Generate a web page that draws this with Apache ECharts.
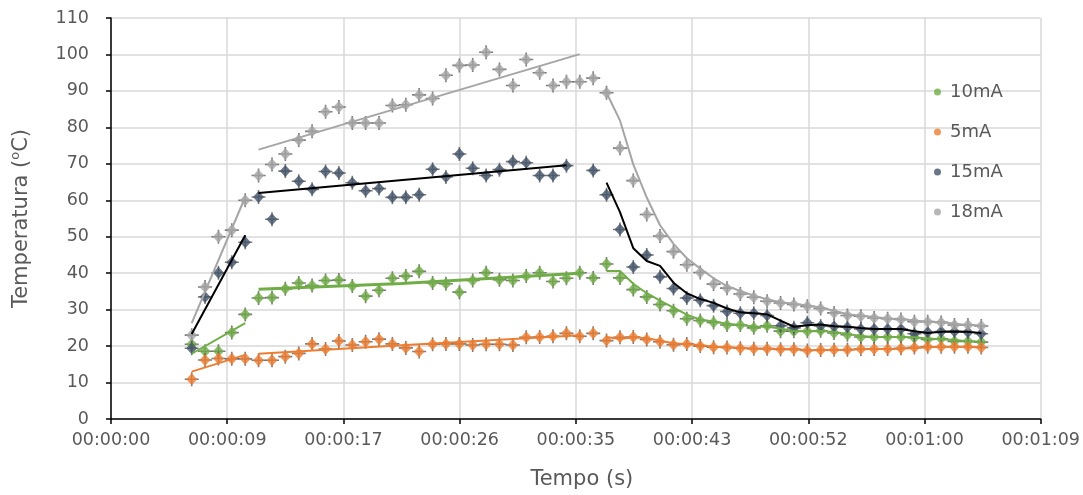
<!DOCTYPE html>
<html>
<head>
<meta charset="utf-8">
<script src="https://cdn.jsdelivr.net/npm/echarts@6/dist/echarts.min.js"></script>
<style>
  html, body { margin: 0; padding: 0; background: #ffffff; }
  #chart { width: 1083px; height: 495px; }
</style>
</head>
<body>
<div id="chart"></div>
<script>
// ---- data (time in seconds) ----
const TIMES = [6.00, 6.99, 7.99, 8.98, 9.98, 10.97, 11.97, 12.96, 13.96, 14.95,
  15.95, 16.94, 17.94, 18.93, 19.93, 20.92, 21.92, 22.91, 23.91, 24.90,
  25.90, 26.89, 27.89, 28.88, 29.88, 30.87, 31.87, 32.86, 33.86, 34.85,
  35.85, 36.84, 37.84, 38.83, 39.83, 40.82, 41.82, 42.81, 43.81, 44.80,
  45.80, 46.79, 47.79, 48.78, 49.78, 50.77, 51.77, 52.76, 53.76, 54.75,
  55.75, 56.74, 57.74, 58.73, 59.73, 60.72, 61.72, 62.71, 63.71, 64.70];

const T10 = [20.5, 18.6, 18.6, 23.7, 28.7, 33.2, 33.3, 35.7, 37.3, 36.6,
  38.0, 38.1, 36.5, 33.7, 35.3, 38.6, 39.2, 40.5, 37.3, 37.1,
  34.8, 38.0, 40.1, 38.2, 38.0, 39.2, 40.1, 37.7, 38.6, 40.1,
  38.7, 42.5, 38.7, 35.5, 33.5, 31.4, 29.7, 27.5, 27.0, 26.5,
  25.8, 25.8, 25.0, 25.6, 24.1, 24.1, 24.1, 24.2, 23.6, 23.1,
  22.5, 22.5, 22.5, 22.5, 22.3, 21.8, 22.0, 21.3, 21.3, 21.1];

const T5 = [10.9, 16.2, 16.6, 16.5, 16.5, 16.1, 16.1, 17.1, 18.0, 20.6,
  19.2, 21.4, 20.3, 21.2, 21.9, 20.6, 19.5, 18.5, 20.5, 20.6,
  20.6, 20.3, 20.5, 20.5, 20.3, 22.4, 22.5, 22.7, 23.5, 22.7,
  23.5, 21.5, 22.4, 22.5, 21.8, 21.2, 20.4, 20.6, 20.0, 19.7,
  19.6, 19.4, 19.3, 19.3, 19.1, 19.1, 18.8, 18.9, 19.0, 19.0,
  19.2, 19.2, 19.2, 19.4, 19.6, 19.8, 19.8, 19.8, 19.8, 19.6];

const T15 = [19.4, 33.5, 40.1, 43.0, 48.5, 60.9, 54.8, 68.0, 65.2, 63.0,
  67.9, 67.5, 64.8, 62.6, 63.2, 60.8, 60.8, 61.5, 68.5, 66.4,
  72.7, 68.8, 66.8, 68.4, 70.6, 70.3, 66.8, 66.8, 69.5, null,
  68.2, 61.5, 52.0, 41.7, 45.0, 39.0, 35.8, 33.2, 32.6, 31.1,
  29.5, 29.0, 29.0, 28.4, 25.6, 25.0, 26.4, 25.5, 25.4, 25.2,
  24.7, 24.7, 24.7, 24.7, 23.4, 23.8, 24.0, 24.0, 23.8, 23.4];

const T18 = [23.0, 36.2, 50.0, 51.8, 60.0, 66.8, 69.8, 72.7, 76.5, 78.9,
  84.3, 85.6, 81.2, 81.2, 81.2, 86.0, 86.2, 88.9, 87.9, 94.3,
  97.0, 97.1, 100.6, 95.9, 91.5, 98.6, 95.0, 91.5, 92.5, 92.5,
  93.5, 89.5, 74.3, 65.4, 56.1, 50.2, 45.9, 42.3, 40.2, 37.0,
  35.9, 34.3, 33.4, 32.3, 31.8, 31.4, 30.9, 30.3, 29.1, 28.4,
  28.2, 27.7, 27.5, 27.3, 26.7, 26.7, 26.5, 25.8, 25.8, 25.5];

// trend segments: [time, value]
const TREND10_A = [[6.00, 17.9], [9.98, 26.3]];
const TREND10_B = [[10.97, 35.6], [21.6, 37.2], [34.85, 40.0]];
const TREND5_A = [[6.00, 13.0], [9.98, 17.6]];
const TREND5_B = [[10.97, 17.9], [21.6, 20.2], [34.85, 23.0]];
const TREND15_A = [[6.00, 23.3], [9.98, 50.4]];
const TREND15_B = [[10.97, 62.0], [33.86, 69.6]];
const TREND18_A = [[6.00, 26.3], [9.98, 60.9]];
const TREND18_B = [[10.97, 73.9], [34.85, 100.1]];

const SERIES_NAMES = ['10mA', '5mA', '15mA', '18mA'];
const X_TICK_LABELS = ['00:00:00', '00:00:09', '00:00:17', '00:00:26', '00:00:35',
  '00:00:43', '00:00:52', '00:01:00', '00:01:09'];
const Y_TICKS = [0, 10, 20, 30, 40, 50, 60, 70, 80, 90, 100, 110];

// ---- helpers ----
const COLORS = { '10mA': '#70AD47', '5mA': '#ED7D31', '15mA': '#44546A', '18mA': '#A5A5A5' };
const X_STEP = 8.64;
function pts(vals) { return vals.map((v, i) => [TIMES[i], v]); }
// 2-period moving average over the cooling part
function movingAvg(vals, startIdx, firstRaw) {
  const out = [];
  if (firstRaw) out.push([TIMES[startIdx - 1], vals[startIdx - 1]]);
  for (let i = startIdx; i < vals.length; i++) {
    out.push([TIMES[i], (vals[i - 1] + vals[i]) / 2]);
  }
  return out;
}
const PLUS = 'path://M-0.8,-7 L0.8,-7 L0.8,-0.8 L7,-0.8 L7,0.8 L0.8,0.8 L0.8,7 L-0.8,7 L-0.8,0.8 L-7,0.8 L-7,-0.8 L-0.8,-0.8 Z';

const DATA = { '10mA': T10, '5mA': T5, '15mA': T15, '18mA': T18 };
const series = [];
SERIES_NAMES.forEach(name => {
  series.push({
    name: '_p' + name, type: 'scatter', data: pts(DATA[name]),
    symbol: PLUS, symbolSize: 14, itemStyle: { color: '#595959' }, silent: true, z: 2
  });
  series.push({
    name: name, type: 'scatter', data: pts(DATA[name]),
    symbol: 'diamond', symbolSize: [11, 12], itemStyle: { color: COLORS[name] }, z: 2
  });
});
function line(data, color, width) {
  return { name: '_l', type: 'line', data: data, showSymbol: false, symbol: 'none',
    lineStyle: { color: color, width: width }, z: 3, silent: true, smooth: false };
}
series.push(line(TREND10_A, '#70AD47', 2));
series.push(line(TREND10_B, '#70AD47', 3));
series.push(line(movingAvg(T10, 31, false), '#70AD47', 2));
series.push(line(TREND5_A, '#ED7D31', 2));
series.push(line(TREND5_B, '#ED7D31', 2));
series.push(line(movingAvg(T5, 31, false), '#ED7D31', 2));
series.push(line(TREND15_A, '#000000', 2));
series.push(line(TREND15_B, '#000000', 2));
series.push(line(movingAvg(T15, 31, false), '#000000', 2));
series.push(line(TREND18_A, '#A5A5A5', 2));
series.push(line(TREND18_B, '#A5A5A5', 2));
series.push(line(movingAvg(T18, 32, true), '#A5A5A5', 2));

const FONT = 'DejaVu Sans';
const chart = echarts.init(document.getElementById('chart'), null, { renderer: 'canvas' });
chart.setOption({
  animation: false,
  backgroundColor: '#ffffff',
  textStyle: { fontFamily: FONT },
  grid: { left: 111, top: 18, right: 42, bottom: 74, containLabel: false },
  legend: {
    data: SERIES_NAMES.map(n => ({ name: n, icon: 'circle' })),
    orient: 'vertical', left: 929, top: 78,
    itemWidth: 7, itemHeight: 7, itemGap: 22,
    textStyle: { fontFamily: FONT, fontSize: 18, color: '#595959', lineHeight: 18, padding: [0, 0, 0, 4] },
    selectedMode: false
  },
  xAxis: {
    type: 'value', min: 0, max: X_STEP * (X_TICK_LABELS.length - 1), interval: X_STEP,
    name: 'Tempo (s)', nameLocation: 'middle', nameGap: 50,
    nameTextStyle: { fontFamily: FONT, fontSize: 21, color: '#595959', padding: [0, 0, 0, 12] },
    axisLine: { show: true, onZero: false, lineStyle: { color: '#000000', width: 1.5 } },
    axisTick: { show: true, inside: false, length: 5, lineStyle: { color: '#000000', width: 1.5 } },
    axisLabel: {
      margin: 12, fontFamily: FONT, fontSize: 17.5, color: '#595959',
      showMaxLabel: true, showMinLabel: true,
      formatter: v => X_TICK_LABELS[Math.round(v / X_STEP)] || ''
    },
    splitLine: { show: true, lineStyle: { color: '#D9D9D9', width: 1.5 } }
  },
  yAxis: {
    type: 'value', min: Y_TICKS[0], max: Y_TICKS[Y_TICKS.length - 1], interval: 10,
    name: 'Temperatura ({sup|o}C)', nameLocation: 'middle', nameGap: 76, nameRotate: 90,
    nameTextStyle: {
      fontFamily: FONT, fontSize: 21, color: '#595959', lineHeight: 26,
      rich: { sup: { fontFamily: FONT, fontSize: 13, color: '#595959', verticalAlign: 'top', lineHeight: 14 } }
    },
    axisLine: { show: true, onZero: false, lineStyle: { color: '#000000', width: 1.5 } },
    axisTick: { show: true, inside: false, length: 5, lineStyle: { color: '#000000', width: 1.5 } },
    axisLabel: { margin: 22, fontFamily: FONT, fontSize: 17.5, color: '#595959' },
    splitLine: { show: true, lineStyle: { color: '#D9D9D9', width: 1.5 } }
  },
  series: series
});
</script>
</body>
</html>
